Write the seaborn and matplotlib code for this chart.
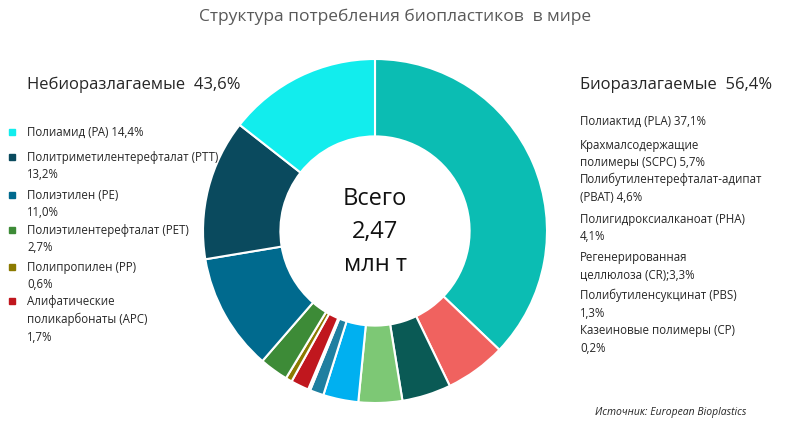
import matplotlib
matplotlib.use("Agg")
import matplotlib.pyplot as plt
import seaborn as sns

sns.set_theme(style="white")
plt.rcParams["font.family"] = "Open Sans"

labels = ["PLA", "SCPC", "PBAT", "PHA", "CR", "PBS", "CP", "APC", "PP", "PET", "PE", "PTT", "PA"]
values = [37.1, 5.7, 4.6, 4.1, 3.3, 1.3, 0.2, 1.7, 0.6, 2.7, 11.0, 13.2, 14.4]
colors = ["#0BBDB3", "#F0625F", "#0A5A55", "#7DC875", "#00B0F0", "#1F7FA0", "#9ED0E0",
          "#C0171E", "#8B7A00", "#3D8B37", "#006A8E", "#0A4A5E", "#12EDED"]

left_texts = ["Полиамид (PA) 14,4%", "Политриметилентерефталат (PTT)\n13,2%", "Полиэтилен (PE)\n11,0%",
              "Полиэтилентерефталат (PET)\n2,7%", "Полипропилен (PP)\n0,6%",
              "Алифатические\nполикарбонаты (APC)\n1,7%"]
left_colors = ["#12EDED", "#0A4A5E", "#006A8E", "#3D8B37", "#8B7A00", "#C0171E"]
left_y = [133, 158, 196, 231, 268, 302]
right_texts = ["Полиактид (PLA) 37,1%", "Крахмалсодержащие\nполимеры (SCPC) 5,7%",
               "Полибутилентерефталат-адипат\n(PBAT) 4,6%", "Полигидроксиалканоат (PHA)\n4,1%",
               "Регенерированная\nцеллюлоза (CR);3,3%", "Полибутиленсукцинат (PBS)\n1,3%",
               "Казеиновые полимеры (CP)\n0,2%"]
right_y = [122, 146, 180, 220, 258, 296, 331]

W, H = 791, 431
fig = plt.figure(figsize=(7.91, 4.31), dpi=100)
cx, cy, r = 375, 232, 172
ax = fig.add_axes([(cx - r) / W, (H - cy - r) / H, 2 * r / W, 2 * r / H])
ax.pie(values, colors=colors, startangle=90, counterclock=False, radius=1,
       wedgeprops=dict(width=0.45, edgecolor="white", linewidth=1.5))
ax.set_xlim(-1, 1); ax.set_ylim(-1, 1); ax.set_aspect("equal"); ax.axis("off")
ax.text(0, 0, "Всего\n2,47\nмлн т", ha="center", va="center", fontsize=17, linespacing=1.5, color="#111")

def fy(y): return 1 - y / H
def fx(x): return x / W

fig.text(0.5, fy(17), "Структура потребления биопластиков  в мире", ha="center", va="center",
         fontsize=12.5, color="#595959")
fig.text(fx(27), fy(85), "Небиоразлагаемые  43,6%", ha="left", va="center", fontsize=12)
fig.text(fx(580), fy(85), "Биоразлагаемые  56,4%", ha="left", va="center", fontsize=12)
for t, c, y in zip(left_texts, left_colors, left_y):
    fig.text(fx(27), fy(y - 7), t, ha="left", va="top", fontsize=8.3, linespacing=1.45)
    fig.patches.append(plt.Rectangle((fx(9), fy(y + 3)), 6 / W, 6 / H, color=c,
                                     transform=fig.transFigure, figure=fig))
for t, y in zip(right_texts, right_y):
    fig.text(fx(580), fy(y - 7), t, ha="left", va="top", fontsize=8.3, linespacing=1.45)
fig.text(fx(595), fy(413), "Источник: European Bioplastics", ha="left", va="center",
         fontsize=7.5, style="italic")
fig.savefig("out.png", dpi=100)
